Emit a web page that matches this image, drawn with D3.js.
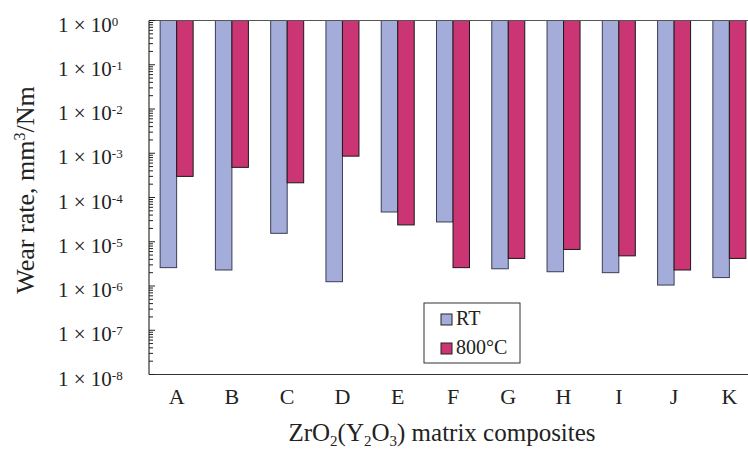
<!DOCTYPE html>
<html>
<head>
<meta charset="utf-8">
<script src="https://cdn.jsdelivr.net/npm/d3@7"></script>
<style>
  body { margin: 0; background: #fff; }
  svg { display: block; font-family: "Liberation Serif", "Times New Roman", serif; }
</style>
</head>
<body>
<svg id="chart" width="748" height="450"></svg>
<script>
const categories = ['A', 'B', 'C', 'D', 'E', 'F', 'G', 'H', 'I', 'J', 'K'];
const rtValues = [2.6e-6, 2.3e-6, 1.55e-5, 1.25e-6, 4.7e-5, 2.8e-5, 2.45e-6, 2.1e-6, 2.0e-6, 1.05e-6, 1.55e-6];
const hotValues = [3.0e-4, 4.8e-4, 2.15e-4, 8.6e-4, 2.4e-5, 2.6e-6, 4.2e-6, 6.7e-6, 4.8e-6, 2.3e-6, 4.2e-6];
const seriesNames = ['RT', '800\u00B0C'];
const exponents = [0, -1, -2, -3, -4, -5, -6, -7, -8];

const colors = { RT: '#a4acd9', hot: '#cc3574' };

const svg = d3.select('#chart');
const margin = { left: 149, top: 20.5, right: 757, bottom: 374.5 };

const x = d3.scaleBand()
  .domain(categories)
  .range([margin.left, margin.right]);

const y = d3.scaleLog()
  .domain([1e-8, 1])
  .range([margin.bottom, margin.top]);

const barW = 16.5;

// bars hang from the top (1 x 10^0) down to the value
const g = svg.append('g');
categories.forEach((c, i) => {
  const cx = x(c) + x.bandwidth() / 2;
  g.append('rect')
    .attr('x', cx - barW)
    .attr('y', y(1))
    .attr('width', barW)
    .attr('height', y(rtValues[i]) - y(1))
    .attr('fill', colors.RT)
    .attr('stroke', '#3a3d55')
    .attr('stroke-width', 1);
  g.append('rect')
    .attr('x', cx)
    .attr('y', y(1))
    .attr('width', barW)
    .attr('height', y(hotValues[i]) - y(1))
    .attr('fill', colors.hot)
    .attr('stroke', '#1a1a1a')
    .attr('stroke-width', 1);
});

// frame lines
svg.append('line')
  .attr('x1', margin.left).attr('x2', 748)
  .attr('y1', y(1)).attr('y2', y(1))
  .attr('stroke', '#555').attr('stroke-width', 1);
svg.append('line')
  .attr('x1', margin.left).attr('x2', 748)
  .attr('y1', y(1e-8)).attr('y2', y(1e-8))
  .attr('stroke', '#333').attr('stroke-width', 1.2);
svg.append('line')
  .attr('x1', margin.left).attr('x2', margin.left)
  .attr('y1', y(1)).attr('y2', y(1e-8))
  .attr('stroke', '#333').attr('stroke-width', 1.2);

// ticks (inside)
const majorTicks = exponents.map((e) => Math.pow(10, e));
const minorTicks = [];
exponents.slice(0, -1).forEach((e) => {
  for (let m = 2; m <= 9; m++) minorTicks.push(m * Math.pow(10, e - 1));
});
svg.append('g').selectAll('line.minor')
  .data(minorTicks)
  .join('line')
  .attr('x1', margin.left).attr('x2', margin.left + 4)
  .attr('y1', (d) => y(d)).attr('y2', (d) => y(d))
  .attr('stroke', '#222').attr('stroke-width', 1);
svg.append('g').selectAll('line.major')
  .data(majorTicks)
  .join('line')
  .attr('x1', margin.left).attr('x2', margin.left + 6)
  .attr('y1', (d) => y(d)).attr('y2', (d) => y(d))
  .attr('stroke', '#222').attr('stroke-width', 1);

// y tick labels: 1 x 10^n, left aligned
const labels = svg.append('g')
  .selectAll('text')
  .data(exponents)
  .join('text')
  .attr('x', 58)
  .attr('y', (e) => y(Math.pow(10, e)) + 11)
  .attr('font-size', 21)
  .attr('fill', '#222');
labels.append('tspan').text('1 \u00D7 10');
labels.append('tspan')
  .attr('dy', -6)
  .attr('font-size', 13)
  .text((e) => String(e));

// category labels
svg.append('g')
  .selectAll('text')
  .data(categories)
  .join('text')
  .attr('x', (d) => x(d) + x.bandwidth() / 2)
  .attr('y', 404)
  .attr('text-anchor', 'middle')
  .attr('font-size', 22)
  .attr('fill', '#222')
  .text((d) => d);

// x title
const xt = svg.append('text')
  .attr('x', 442)
  .attr('y', 441)
  .attr('text-anchor', 'middle')
  .attr('font-size', 25)
  .attr('fill', '#222');
xt.append('tspan').text('ZrO');
xt.append('tspan').attr('dy', 5).attr('font-size', 15).text('2');
xt.append('tspan').attr('dy', -5).text('(Y');
xt.append('tspan').attr('dy', 5).attr('font-size', 15).text('2');
xt.append('tspan').attr('dy', -5).text('O');
xt.append('tspan').attr('dy', 5).attr('font-size', 15).text('3');
xt.append('tspan').attr('dy', -5).text(') matrix composites');

// y title
const yt = svg.append('text')
  .attr('transform', 'translate(34,' + 190 + ') rotate(-90)')
  .attr('text-anchor', 'middle')
  .attr('font-size', 26)
  .attr('fill', '#222');
yt.append('tspan').text('Wear rate, mm');
yt.append('tspan').attr('dy', -9).attr('font-size', 16).text('3');
yt.append('tspan').attr('dy', 9).text('/Nm');

// legend
const legend = svg.append('g').attr('transform', 'translate(424,303)');
legend.append('rect')
  .attr('width', 96).attr('height', 60)
  .attr('fill', '#fff').attr('stroke', '#333').attr('stroke-width', 1);
seriesNames.forEach((name, i) => {
  legend.append('rect')
    .attr('x', 17).attr('y', 11 + i * 29)
    .attr('width', 11).attr('height', 11)
    .attr('fill', i === 0 ? colors.RT : colors.hot)
    .attr('stroke', '#222').attr('stroke-width', 1);
  legend.append('text')
    .attr('x', 32).attr('y', 22 + i * 29)
    .attr('font-size', 20)
    .attr('fill', '#222')
    .text(name);
});
</script>
</body>
</html>
